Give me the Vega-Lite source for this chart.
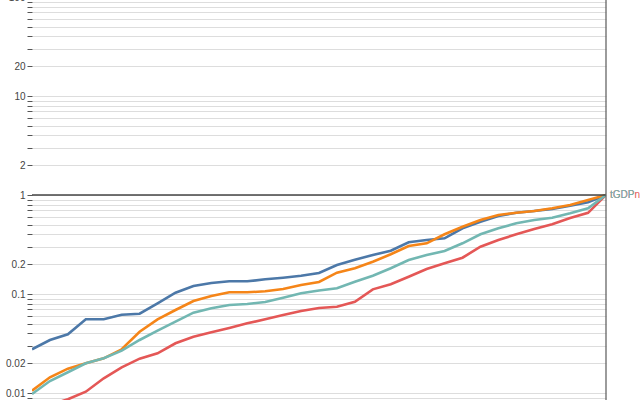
{
  "$schema": "https://vega.github.io/schema/vega-lite/v6.json",
  "autosize": {"type": "none"},
  "padding": {"left": 32, "top": -3, "right": 34, "bottom": 0},
  "width": 574,
  "height": 495,
  "config": {"view": {"stroke": null}},
  "datasets": {
    "series": [
      {"i":0,"s":"tGDPn","v":0.00673},{"i":1,"s":"tGDPn","v":0.00756},{"i":2,"s":"tGDPn","v":0.00864},{"i":3,"s":"tGDPn","v":0.01031},{"i":4,"s":"tGDPn","v":0.01408},{"i":5,"s":"tGDPn","v":0.01818},{"i":6,"s":"tGDPn","v":0.02221},{"i":7,"s":"tGDPn","v":0.02518},{"i":8,"s":"tGDPn","v":0.03177},{"i":9,"s":"tGDPn","v":0.03704},{"i":10,"s":"tGDPn","v":0.04102},{"i":11,"s":"tGDPn","v":0.04535},{"i":12,"s":"tGDPn","v":0.05058},{"i":13,"s":"tGDPn","v":0.05551},{"i":14,"s":"tGDPn","v":0.06137},{"i":15,"s":"tGDPn","v":0.06735},{"i":16,"s":"tGDPn","v":0.0722},{"i":17,"s":"tGDPn","v":0.07439},{"i":18,"s":"tGDPn","v":0.0836},{"i":19,"s":"tGDPn","v":0.1115},{"i":20,"s":"tGDPn","v":0.1253},{"i":21,"s":"tGDPn","v":0.1495},{"i":22,"s":"tGDPn","v":0.1789},{"i":23,"s":"tGDPn","v":0.2042},{"i":24,"s":"tGDPn","v":0.2326},{"i":25,"s":"tGDPn","v":0.3004},{"i":26,"s":"tGDPn","v":0.3511},{"i":27,"s":"tGDPn","v":0.4009},{"i":28,"s":"tGDPn","v":0.4535},{"i":29,"s":"tGDPn","v":0.5058},{"i":30,"s":"tGDPn","v":0.5857},{"i":31,"s":"tGDPn","v":0.66},{"i":32,"s":"tGDPn","v":1},
      {"i":0,"s":"pop","v":0.02763},{"i":1,"s":"pop","v":0.0343},{"i":2,"s":"pop","v":0.03917},{"i":3,"s":"pop","v":0.05551},{"i":4,"s":"pop","v":0.05551},{"i":5,"s":"pop","v":0.06178},{"i":6,"s":"pop","v":0.06324},{"i":7,"s":"pop","v":0.08054},{"i":8,"s":"pop","v":0.1031},{"i":9,"s":"pop","v":0.1204},{"i":10,"s":"pop","v":0.1291},{"i":11,"s":"pop","v":0.1343},{"i":12,"s":"pop","v":0.1343},{"i":13,"s":"pop","v":0.1407},{"i":14,"s":"pop","v":0.1461},{"i":15,"s":"pop","v":0.1531},{"i":16,"s":"pop","v":0.163},{"i":17,"s":"pop","v":0.1963},{"i":18,"s":"pop","v":0.2221},{"i":19,"s":"pop","v":0.2476},{"i":20,"s":"pop","v":0.2738},{"i":21,"s":"pop","v":0.3328},{"i":22,"s":"pop","v":0.3511},{"i":23,"s":"pop","v":0.3652},{"i":24,"s":"pop","v":0.4609},{"i":25,"s":"pop","v":0.5375},{"i":26,"s":"pop","v":0.6137},{"i":27,"s":"pop","v":0.6627},{"i":28,"s":"pop","v":0.6893},{"i":29,"s":"pop","v":0.7224},{"i":30,"s":"pop","v":0.7796},{"i":31,"s":"pop","v":0.8438},{"i":32,"s":"pop","v":1},
      {"i":0,"s":"area","v":0.01055},{"i":1,"s":"area","v":0.01441},{"i":2,"s":"area","v":0.0176},{"i":3,"s":"area","v":0.01995},{"i":4,"s":"area","v":0.02241},{"i":5,"s":"area","v":0.02763},{"i":6,"s":"area","v":0.0416},{"i":7,"s":"area","v":0.05551},{"i":8,"s":"area","v":0.06892},{"i":9,"s":"area","v":0.08497},{"i":10,"s":"area","v":0.09546},{"i":11,"s":"area","v":0.104},{"i":12,"s":"area","v":0.104},{"i":13,"s":"area","v":0.1065},{"i":14,"s":"area","v":0.1123},{"i":15,"s":"area","v":0.1233},{"i":16,"s":"area","v":0.1322},{"i":17,"s":"area","v":0.1641},{"i":18,"s":"area","v":0.1818},{"i":19,"s":"area","v":0.212},{"i":20,"s":"area","v":0.2518},{"i":21,"s":"area","v":0.3054},{"i":22,"s":"area","v":0.3252},{"i":23,"s":"area","v":0.4009},{"i":24,"s":"area","v":0.4784},{"i":25,"s":"area","v":0.5593},{"i":26,"s":"area","v":0.6281},{"i":27,"s":"area","v":0.6627},{"i":28,"s":"area","v":0.6893},{"i":29,"s":"area","v":0.7338},{"i":30,"s":"area","v":0.7924},{"i":31,"s":"area","v":0.8902},{"i":32,"s":"area","v":1},
      {"i":0,"s":"tGDP","v":0.00977},{"i":1,"s":"tGDP","v":0.01322},{"i":2,"s":"tGDP","v":0.01619},{"i":3,"s":"tGDP","v":0.01995},{"i":4,"s":"tGDP","v":0.02241},{"i":5,"s":"tGDP","v":0.02675},{"i":6,"s":"tGDP","v":0.0343},{"i":7,"s":"tGDP","v":0.04258},{"i":8,"s":"tGDP","v":0.05251},{"i":9,"s":"tGDP","v":0.06474},{"i":10,"s":"tGDP","v":0.07171},{"i":11,"s":"tGDP","v":0.07743},{"i":12,"s":"tGDP","v":0.07925},{"i":13,"s":"tGDP","v":0.08302},{"i":14,"s":"tGDP","v":0.09177},{"i":15,"s":"tGDP","v":0.1017},{"i":16,"s":"tGDP","v":0.1085},{"i":17,"s":"tGDP","v":0.1142},{"i":18,"s":"tGDP","v":0.1331},{"i":19,"s":"tGDP","v":0.1531},{"i":20,"s":"tGDP","v":0.1818},{"i":21,"s":"tGDP","v":0.2205},{"i":22,"s":"tGDP","v":0.2476},{"i":23,"s":"tGDP","v":0.2718},{"i":24,"s":"tGDP","v":0.3252},{"i":25,"s":"tGDP","v":0.4009},{"i":26,"s":"tGDP","v":0.4609},{"i":27,"s":"tGDP","v":0.5178},{"i":28,"s":"tGDP","v":0.5593},{"i":29,"s":"tGDP","v":0.5898},{"i":30,"s":"tGDP","v":0.6535},{"i":31,"s":"tGDP","v":0.7338},{"i":32,"s":"tGDP","v":1}
    ],
    "labels": [
      {"i":32,"s":"tGDPn","v":1},
      {"i":32,"s":"tGDP","v":1}
    ]
  },
  "layer": [
    {
      "data": {"name": "series"},
      "mark": {"type": "line", "strokeWidth": 2.6, "clip": true},
      "encoding": {
        "x": {"field": "i", "type": "quantitative", "scale": {"domain": [0, 32], "nice": false, "zero": false}, "axis": null},
        "y": {"field": "v", "type": "quantitative",
              "scale": {"type": "log", "domain": [0.001, 100], "nice": false},
              "axis": {"title": null, "domain": false, "tickColor": "#555", "labelColor": "#444", "gridColor": "#ddd", "labelFontSize": 10, "tickSize": 5}},
        "color": {"field": "s", "type": "nominal", "legend": null,
                  "scale": {"domain": ["pop", "area", "tGDP", "tGDPn"], "range": ["#4c78a8", "#f58518", "#72b7b2", "#e45756"]}},
        "detail": {"field": "s"}
      }
    },
    {
      "data": {"values": [{"ref": 1}]},
      "mark": {"type": "rule", "color": "#444", "strokeWidth": 1.3},
      "encoding": {"y": {"field": "ref", "type": "quantitative"}}
    },
    {
      "data": {"values": [{"edge": 32}]},
      "mark": {"type": "rule", "color": "#666", "strokeWidth": 1.3},
      "encoding": {"x": {"field": "edge", "type": "quantitative"}}
    },
    {
      "data": {"name": "labels"},
      "mark": {"type": "text", "align": "left", "baseline": "middle", "dx": 4, "fontSize": 10},
      "encoding": {
        "x": {"field": "i", "type": "quantitative"},
        "y": {"field": "v", "type": "quantitative"},
        "text": {"field": "s"},
        "color": {"field": "s", "type": "nominal", "legend": null}
      }
    }
  ]
}
